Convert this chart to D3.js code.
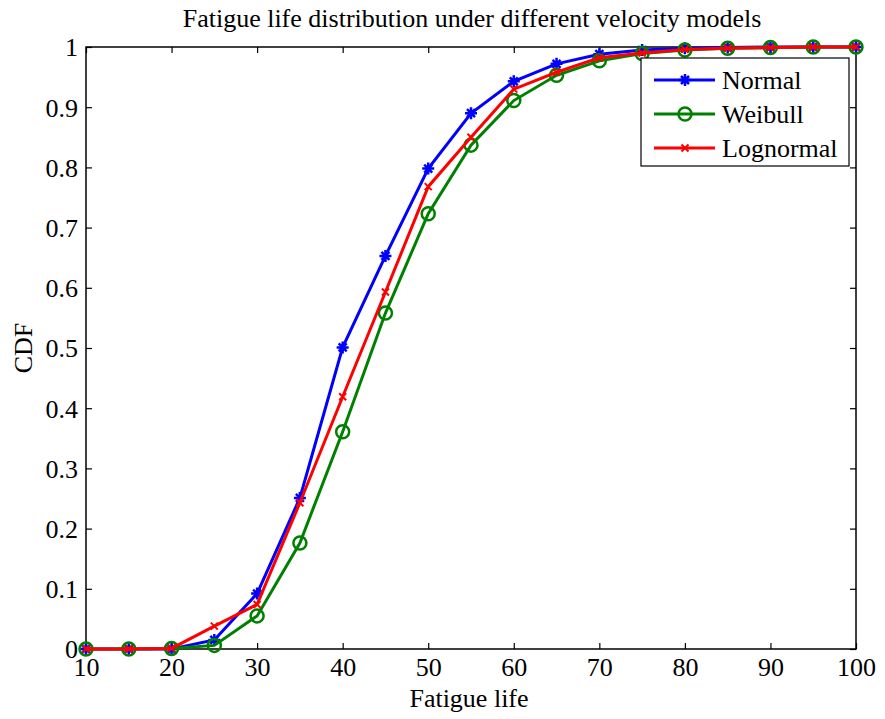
<!DOCTYPE html>
<html>
<head>
<meta charset="utf-8">
<script src="https://cdn.jsdelivr.net/npm/d3@7"></script>
<style>
  body { margin: 0; background: #fff; }
  text { font-family: "Liberation Serif", "Times New Roman", serif; }
</style>
</head>
<body>
<svg id="chart" width="885" height="719"></svg>
<script>
// fatigue life sample points
var life = [10, 15, 20, 25, 30, 35, 40, 45, 50, 55, 60, 65, 70, 75, 80, 85, 90, 95, 100]
var normalCdf = [0, 0, 0, 0.015, 0.092, 0.251, 0.501, 0.653, 0.798, 0.89, 0.943, 0.972, 0.988, 0.995, 0.998, 0.999, 1, 1, 1]
var weibullCdf = [0, 0, 0.001, 0.006, 0.055, 0.176, 0.361, 0.558, 0.723, 0.837, 0.911, 0.953, 0.977, 0.989, 0.995, 0.998, 0.999, 1, 1]
var lognormalCdf = [0, 0, 0.001, 0.038, 0.074, 0.243, 0.419, 0.593, 0.768, 0.85, 0.93, 0.958, 0.982, 0.99, 0.996, 0.998, 0.999, 1, 1]
var xTicks = [10, 20, 30, 40, 50, 60, 70, 80, 90, 100]
var yTicks = [0, 0.1, 0.2, 0.3, 0.4, 0.5, 0.6, 0.7, 0.8, 0.9, 1]

var series = [
  { name: "Normal", values: normalCdf, color: "#0000ff", marker: "star" },
  { name: "Weibull", values: weibullCdf, color: "#008000", marker: "circle" },
  { name: "Lognormal", values: lognormalCdf, color: "#ff0000", marker: "cross" }
]

var svg = d3.select("#chart")
var mLeft = 86, mRight = 856, mTop = 47, mBottom = 649

var x = d3.scaleLinear().domain([10, 100]).range([mLeft, mRight])
var y = d3.scaleLinear().domain([0, 1]).range([mBottom, mTop])

// axis box
svg.append("rect")
  .attr("x", mLeft).attr("y", mTop)
  .attr("width", mRight - mLeft).attr("height", mBottom - mTop)
  .attr("fill", "none").attr("stroke", "#000").attr("stroke-width", 1.5)

var fmt = function(d) { return d === 0 || d === 1 ? String(d) : d3.format(".1f")(d) }

var xAxis = svg.append("g").attr("transform", "translate(0," + mBottom + ")")
  .call(d3.axisBottom(x).tickValues(xTicks).tickSize(-6).tickPadding(9).tickFormat(d3.format("d")))
var xAxisTop = svg.append("g").attr("transform", "translate(0," + mTop + ")")
  .call(d3.axisTop(x).tickValues(xTicks).tickSize(-6).tickFormat(""))
var yAxis = svg.append("g").attr("transform", "translate(" + mLeft + ",0)")
  .call(d3.axisLeft(y).tickValues(yTicks).tickSize(-6).tickPadding(8).tickFormat(fmt))
var yAxisRight = svg.append("g").attr("transform", "translate(" + mRight + ",0)")
  .call(d3.axisRight(y).tickValues(yTicks).tickSize(-6).tickFormat(""))

;[xAxis, xAxisTop, yAxis, yAxisRight].forEach(function(g) {
  g.select(".domain").remove()
  g.selectAll(".tick line").attr("stroke", "#000").attr("stroke-width", 1.2)
  g.selectAll("text").attr("fill", "#000").style("font-size", "26px")
    .style("font-family", "'Liberation Serif', 'Times New Roman', serif")
})
yAxis.selectAll("text").attr("dy", "0.34em")

var line = d3.line()
  .x(function(d, i) { return x(life[i]) })
  .y(function(d) { return y(d) })

function drawMarker(g, type, color) {
  if (type === "circle") {
    g.append("circle").attr("r", 6.5).attr("fill", "none")
      .attr("stroke", color).attr("stroke-width", 2.5)
  } else if (type === "star") {
    var s = 6
    g.append("path")
      .attr("d", "M" + (-s) + ",0L" + s + ",0M0," + (-s) + "L0," + s +
        "M-4,-4L4,4M-4,4L4,-4")
      .attr("stroke", color).attr("stroke-width", 2.5).attr("fill", "none")
  } else {
    var c = 3.5
    g.append("path")
      .attr("d", "M" + (-c) + "," + (-c) + "L" + c + "," + c + "M" + (-c) + "," + c + "L" + c + "," + (-c))
      .attr("stroke", color).attr("stroke-width", 2).attr("fill", "none")
  }
}

series.forEach(function(s) {
  var g = svg.append("g")
  g.append("path").datum(s.values)
    .attr("d", line)
    .attr("fill", "none").attr("stroke", s.color).attr("stroke-width", 3)
  s.values.forEach(function(v, i) {
    var m = g.append("g").attr("transform", "translate(" + x(life[i]) + "," + y(v) + ")")
    drawMarker(m, s.marker, s.color)
  })
})

// legend
var legend = svg.append("g").attr("transform", "translate(641,58)")
legend.append("rect").attr("width", 208).attr("height", 108)
  .attr("fill", "#fff").attr("stroke", "#000").attr("stroke-width", 1.2)
series.forEach(function(s, i) {
  var row = legend.append("g").attr("transform", "translate(0," + (22 + i * 34) + ")")
  row.append("line").attr("x1", 13).attr("x2", 74).attr("y1", 0).attr("y2", 0)
    .attr("stroke", s.color).attr("stroke-width", 3)
  drawMarker(row.append("g").attr("transform", "translate(44,0)"), s.marker, s.color)
  row.append("text").attr("x", 81).attr("y", 0).attr("dy", "0.33em")
    .style("font-size", "26px").text(s.name)
})

// labels
svg.append("text").attr("x", 472).attr("y", 27).attr("text-anchor", "middle")
  .style("font-size", "26px").text("Fatigue life distribution under different velocity models")
svg.append("text").attr("x", 469).attr("y", 707).attr("text-anchor", "middle")
  .style("font-size", "26px").text("Fatigue life")
svg.append("text").attr("transform", "translate(32,348) rotate(-90)").attr("text-anchor", "middle")
  .style("font-size", "26px").text("CDF")
</script>
</body>
</html>
